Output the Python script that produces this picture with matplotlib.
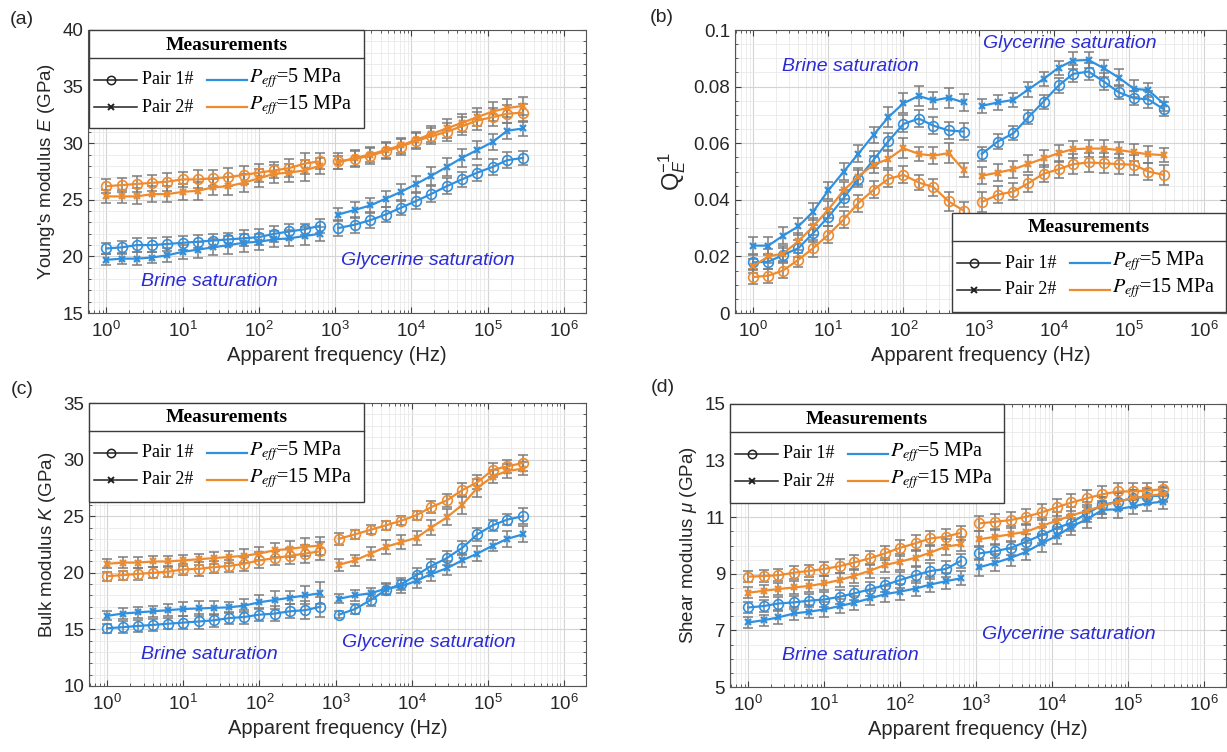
import numpy as np
import matplotlib
matplotlib.use('Agg')
import matplotlib.pyplot as plt
from matplotlib.ticker import AutoMinorLocator, LogLocator, NullFormatter, FixedLocator
from matplotlib.patches import Rectangle

plt.rcParams['font.family'] = ['Liberation Sans', 'DejaVu Sans']
plt.rcParams['mathtext.fontset'] = 'custom'
plt.rcParams['mathtext.rm'] = 'Liberation Sans'
plt.rcParams['mathtext.it'] = 'Liberation Sans:italic'
plt.rcParams['mathtext.bf'] = 'Liberation Sans:bold'

W, H = 1227, 752
BLUE = '#3190de'
ORANGE = '#ee8b2e'
ERR = '#7d7d7d'
NOTE = '#2b2bd6'
SERIF = ['Liberation Serif', 'DejaVu Serif']

# apparent frequencies (Hz): brine-saturated run, then glycerine-saturated run
freq_brine = [1.0, 1.6, 2.5, 4.0, 6.3, 10, 16, 25, 40, 63, 100, 160, 250, 400, 630]
freq_glyc = [1.1e3, 1.8e3, 2.9e3, 4.6e3, 7.3e3, 1.16e4, 1.8e4, 2.9e4, 4.6e4, 7.3e4,
             1.16e5, 1.8e5, 2.9e5]
freq_ticks = [1e0, 1e1, 1e2, 1e3, 1e4, 1e5, 1e6]

# (a) Young's modulus E (GPa)
E_p1_5 = [20.7, 20.8, 21.0, 21.0, 21.1, 21.2, 21.3, 21.4, 21.5, 21.6, 21.7, 22.0, 22.2, 22.4, 22.7,
          22.5, 22.8, 23.2, 23.7, 24.3, 24.9, 25.5, 26.2, 26.8, 27.4, 27.9, 28.5, 28.7]
E_p2_5 = [19.7, 19.8, 19.8, 19.9, 20.1, 20.4, 20.6, 20.8, 21.0, 21.2, 21.3, 21.5, 21.6, 21.8, 22.0,
          23.7, 24.1, 24.5, 25.1, 25.7, 26.4, 27.1, 27.9, 28.7, 29.4, 30.1, 31.1, 31.3]
E_p1_15 = [26.2, 26.3, 26.4, 26.5, 26.6, 26.8, 26.8, 26.9, 27.0, 27.2, 27.4, 27.6, 27.8, 28.2, 28.4,
           28.4, 28.6, 28.9, 29.3, 29.7, 30.2, 30.6, 31.0, 31.5, 32.0, 32.3, 32.6, 32.7]
E_p2_15 = [25.3, 25.3, 25.3, 25.5, 25.5, 25.7, 25.8, 26.1, 26.2, 26.5, 26.9, 27.3, 27.4, 27.6, 28.0,
           28.3, 28.7, 29.0, 29.4, 29.8, 30.3, 30.8, 31.3, 31.8, 32.3, 32.8, 33.1, 33.3]
E_p1_5_err = [0.5, 0.6, 0.6, 0.6, 0.6, 0.6, 0.6, 0.6, 0.6, 0.7, 0.7, 0.7, 0.7, 0.5, 0.6,
              0.7, 0.7, 0.7, 0.7, 0.6, 0.7, 0.7, 0.7, 0.7, 0.7, 0.7, 0.7, 0.6]
E_p2_5_err = [0.5, 0.5, 0.6, 0.5, 0.6, 0.6, 0.7, 0.7, 0.8, 0.8, 0.7, 0.7, 0.7, 0.8, 0.6,
              0.6, 0.7, 0.7, 0.7, 0.7, 0.7, 0.8, 0.8, 0.8, 0.8, 0.7, 0.7, 0.7]
E_p1_15_err = [0.6, 0.6, 0.7, 0.7, 0.8, 0.7, 0.8, 0.7, 0.8, 0.8, 0.8, 0.7, 0.8, 0.9, 0.7,
               0.7, 0.7, 0.7, 0.7, 0.7, 0.7, 0.7, 0.8, 0.8, 0.8, 0.8, 0.8, 0.8]
E_p2_15_err = [0.6, 0.6, 0.7, 0.7, 0.7, 0.7, 0.8, 0.7, 0.8, 0.8, 0.8, 0.8, 0.8, 0.9, 0.7,
               0.6, 0.7, 0.7, 0.7, 0.7, 0.7, 0.7, 0.8, 0.8, 0.8, 0.8, 0.8, 0.8]

# (b) attenuation Q_E^-1
Q_p1_5 = [0.0179, 0.0181, 0.0205, 0.0229, 0.0282, 0.0339, 0.0406, 0.0474, 0.0541, 0.0607, 0.0668,
          0.0687, 0.0662, 0.0645, 0.0641,
          0.0562, 0.0606, 0.0635, 0.0692, 0.0747, 0.0804, 0.0845, 0.0853, 0.0818, 0.0780, 0.0759,
          0.0755, 0.0720]
Q_p2_5 = [0.0238, 0.0238, 0.0273, 0.0306, 0.0358, 0.0433, 0.0499, 0.0562, 0.0629, 0.0692, 0.0741,
          0.0767, 0.0751, 0.0761, 0.0744,
          0.0732, 0.0744, 0.0753, 0.0790, 0.0827, 0.0867, 0.0892, 0.0894, 0.0865, 0.0832, 0.0792,
          0.0788, 0.0739]
Q_p1_15 = [0.0127, 0.0132, 0.0150, 0.0188, 0.0229, 0.0276, 0.0330, 0.0388, 0.0435, 0.0474, 0.0488,
           0.0461, 0.0445, 0.0394, 0.0362,
           0.0392, 0.0418, 0.0429, 0.0459, 0.0492, 0.0508, 0.0526, 0.0532, 0.0529, 0.0526, 0.0524,
           0.0500, 0.0488]
Q_p2_15 = [0.0165, 0.0200, 0.0210, 0.0253, 0.0306, 0.0365, 0.0433, 0.0482, 0.0524, 0.0544, 0.0582,
           0.0562, 0.0556, 0.0565, 0.0506,
           0.0485, 0.0496, 0.0508, 0.0527, 0.0546, 0.0565, 0.0579, 0.0581, 0.0581, 0.0576, 0.0568,
           0.0561, 0.0558]
Q_p1_5_err = [0.0025, 0.0025, 0.0025, 0.0030, 0.0030, 0.0030, 0.0030, 0.0030, 0.0030, 0.0030, 0.0030,
              0.0030, 0.0030, 0.0030, 0.0030,
              0.0025, 0.0025, 0.0025, 0.0025, 0.0025, 0.0025, 0.0030, 0.0030, 0.0030, 0.0025, 0.0025,
              0.0030, 0.0025]
Q_p2_5_err = [0.0030, 0.0030, 0.0030, 0.0030, 0.0030, 0.0030, 0.0030, 0.0030, 0.0030, 0.0035, 0.0035,
              0.0035, 0.0030, 0.0035, 0.0030,
              0.0025, 0.0025, 0.0025, 0.0025, 0.0025, 0.0025, 0.0030, 0.0030, 0.0030, 0.0030, 0.0030,
              0.0025, 0.0025]
Q_p1_15_err = [0.0025, 0.0025, 0.0025, 0.0025, 0.0030, 0.0030, 0.0030, 0.0030, 0.0030, 0.0030, 0.0030,
               0.0025, 0.0030, 0.0035, 0.0030,
               0.0035, 0.0030, 0.0030, 0.0030, 0.0030, 0.0030, 0.0035, 0.0035, 0.0035, 0.0035, 0.0035,
               0.0030, 0.0035]
Q_p2_15_err = [0.0025, 0.0025, 0.0025, 0.0030, 0.0030, 0.0030, 0.0030, 0.0030, 0.0030, 0.0030, 0.0035,
               0.0025, 0.0030, 0.0035, 0.0025,
               0.0030, 0.0030, 0.0030, 0.0030, 0.0030, 0.0030, 0.0030, 0.0030, 0.0030, 0.0030, 0.0030,
               0.0030, 0.0025]

# (c) bulk modulus K (GPa)
K_p1_5 = [15.1, 15.2, 15.3, 15.4, 15.5, 15.6, 15.7, 15.8, 16.0, 16.1, 16.3, 16.4, 16.6, 16.7, 17.0,
          16.3, 16.8, 17.6, 18.5, 19.0, 19.8, 20.6, 21.3, 22.2, 23.4, 24.2, 24.7, 25.0]
K_p2_5 = [16.2, 16.4, 16.5, 16.6, 16.7, 16.8, 16.85, 16.9, 16.95, 17.1, 17.4, 17.6, 17.8, 18.0, 18.2,
          17.7, 18.0, 18.2, 18.6, 18.8, 19.3, 19.9, 20.4, 21.1, 21.7, 22.4, 23.0, 23.4]
K_p1_15 = [19.7, 19.8, 19.9, 20.0, 20.1, 20.3, 20.35, 20.5, 20.6, 20.8, 21.1, 21.3, 21.5, 21.7, 21.9,
           23.0, 23.4, 23.8, 24.2, 24.6, 25.1, 25.8, 26.4, 27.3, 28.0, 29.1, 29.4, 29.7]
K_p2_15 = [20.8, 20.9, 20.9, 21.0, 21.0, 21.1, 21.2, 21.3, 21.4, 21.5, 21.7, 22.0, 22.1, 22.3, 22.4,
           20.7, 21.1, 21.7, 22.3, 22.7, 23.1, 24.0, 24.9, 26.0, 27.5, 28.5, 29.0, 29.2]
K_p1_5_err = [0.4, 0.5, 0.5, 0.5, 0.5, 0.6, 0.7, 0.6, 0.5, 0.6, 0.6, 0.7, 0.6, 0.8, 0.9,
              0.3, 0.4, 0.5, 0.5, 0.5, 0.6, 0.6, 0.6, 0.6, 0.6, 0.5, 0.5, 0.7]
K_p2_5_err = [0.4, 0.5, 0.5, 0.5, 0.5, 0.6, 0.7, 0.6, 0.5, 0.6, 0.6, 0.8, 0.6, 0.8, 1.0,
              0.4, 0.5, 0.5, 0.5, 0.6, 0.6, 0.6, 0.6, 0.6, 0.7, 0.5, 0.7, 0.7]
K_p1_15_err = [0.4, 0.4, 0.5, 0.5, 0.5, 0.5, 0.6, 0.5, 0.5, 0.6, 0.7, 0.6, 0.7, 0.8, 0.8,
               0.5, 0.4, 0.4, 0.4, 0.4, 0.4, 0.5, 0.6, 0.6, 0.6, 0.6, 0.6, 0.7]
K_p2_15_err = [0.4, 0.5, 0.5, 0.5, 0.5, 0.5, 0.5, 0.5, 0.5, 0.6, 0.6, 0.6, 0.7, 0.8, 0.8,
               0.5, 0.5, 0.6, 0.6, 0.6, 0.6, 0.7, 0.7, 0.8, 0.8, 0.6, 0.6, 0.6]

# (d) shear modulus mu (GPa)
mu_p1_5 = [7.81, 7.86, 7.95, 7.99, 8.05, 8.09, 8.19, 8.31, 8.45, 8.60, 8.78, 8.95, 9.10, 9.17, 9.46,
           9.72, 9.80, 9.92, 10.14, 10.37, 10.61, 10.81, 11.14, 11.43, 11.55, 11.67, 11.73, 11.77]
mu_p2_5 = [7.28, 7.36, 7.46, 7.60, 7.66, 7.74, 7.86, 7.98, 8.13, 8.28, 8.37, 8.48, 8.62, 8.74, 8.84,
           9.23, 9.39, 9.57, 9.78, 10.08, 10.34, 10.67, 10.93, 11.26, 11.28, 11.38, 11.49, 11.55]
mu_p1_15 = [8.90, 8.92, 8.95, 9.04, 9.10, 9.17, 9.27, 9.40, 9.55, 9.72, 9.92, 10.08, 10.25, 10.31,
            10.45, 10.78, 10.84, 10.90, 11.02, 11.17, 11.35, 11.52, 11.67, 11.81, 11.91, 11.91,
            11.94, 11.99]
mu_p2_15 = [8.33, 8.40, 8.46, 8.52, 8.57, 8.66, 8.78, 8.93, 9.11, 9.31, 9.43, 9.57, 9.75, 9.96, 10.04,
            10.22, 10.31, 10.40, 10.49, 10.69, 10.88, 11.06, 11.23, 11.40, 11.55, 11.67, 11.75, 11.82]
mu_p1_5_err = [0.20, 0.20, 0.22, 0.22, 0.22, 0.25, 0.25, 0.25, 0.25, 0.25, 0.28, 0.28, 0.28, 0.28, 0.25,
               0.25, 0.25, 0.25, 0.28, 0.28, 0.28, 0.28, 0.30, 0.30, 0.30, 0.30, 0.28, 0.25]
mu_p2_5_err = [0.20, 0.20, 0.22, 0.22, 0.22, 0.25, 0.25, 0.25, 0.25, 0.28, 0.28, 0.28, 0.28, 0.28, 0.25,
               0.30, 0.30, 0.30, 0.30, 0.30, 0.30, 0.30, 0.30, 0.30, 0.30, 0.28, 0.28, 0.25]
mu_p1_15_err = [0.20, 0.22, 0.22, 0.22, 0.22, 0.25, 0.25, 0.25, 0.25, 0.25, 0.28, 0.28, 0.28, 0.28, 0.25,
                0.28, 0.28, 0.28, 0.28, 0.28, 0.30, 0.30, 0.30, 0.30, 0.30, 0.30, 0.28, 0.25]
mu_p2_15_err = [0.20, 0.22, 0.22, 0.22, 0.22, 0.25, 0.25, 0.25, 0.25, 0.25, 0.28, 0.28, 0.28, 0.28, 0.25,
                0.28, 0.28, 0.28, 0.28, 0.28, 0.30, 0.30, 0.30, 0.30, 0.30, 0.30, 0.28, 0.25]

E_ticks = [15, 20, 25, 30, 35, 40]
Q_ticks = [0, 0.02, 0.04, 0.06, 0.08, 0.1]
K_ticks = [10, 15, 20, 25, 30, 35]
mu_ticks = [5, 7, 9, 11, 13, 15]


def px_axes(fig, left, top, right, bottom):
    # place an axes from pixel edges measured from the top-left corner
    return fig.add_axes([left / W, 1 - bottom / H, (right - left) / W, (bottom - top) / H])


def draw_series(ax, vals, errs, color, marker):
    nb = len(freq_brine)
    for f, v, e in ((freq_brine, vals[:nb], errs[:nb]), (freq_glyc, vals[nb:], errs[nb:])):
        ax.errorbar(f, v, yerr=e, fmt='none', ecolor=ERR, elinewidth=1.1,
                    capsize=3.5, capthick=1.1, zorder=2)
        if marker == 'o':
            ax.plot(f, v, color=color, lw=1.6, marker='o', ms=7, mfc='none',
                    mew=1.2, zorder=3)
        else:
            ax.plot(f, v, color=color, lw=1.6, marker='x', ms=4.5, mew=1.6, zorder=3)


def style_axes(ax, ticks, nminor, ylabel, ylabel_size):
    ax.set_xscale('log')
    ax.set_xlim(10 ** -0.24, 10 ** 6.29)
    ax.xaxis.set_major_locator(FixedLocator(freq_ticks))
    ax.xaxis.set_minor_locator(LogLocator(base=10, subs=np.arange(2, 10), numticks=12))
    ax.xaxis.set_minor_formatter(NullFormatter())
    ax.set_ylim(ticks[0], ticks[-1])
    ax.yaxis.set_major_locator(FixedLocator(ticks))
    ax.yaxis.set_major_formatter(plt.FuncFormatter(lambda v, _: f'{v:g}'))
    ax.yaxis.set_minor_locator(AutoMinorLocator(nminor))
    ax.grid(True, which='major', color='#d4d4d4', lw=0.8)
    ax.grid(True, which='minor', color='#e9e9e9', lw=0.6)
    ax.set_axisbelow(True)
    ax.tick_params(which='both', direction='in', top=True, right=True,
                   colors='#404040', labelcolor='#262626', labelsize=13.5)
    ax.tick_params(axis='x', which='major', pad=6)
    ax.tick_params(which='major', length=4)
    ax.tick_params(which='minor', length=2.2)
    for s in ax.spines.values():
        s.set_color('#555555')
        s.set_linewidth(0.8)
    ax.set_xlabel('Apparent frequency (Hz)', fontsize=14.5, color='#262626', labelpad=3)
    ax.set_ylabel(ylabel, fontsize=ylabel_size, color='#262626')


def measurement_key(fig, left, top, width, height):
    kax = fig.add_axes([left / W, 1 - (top + height) / H, width / W, height / H])
    kax.set_xlim(0, width)
    kax.set_ylim(height, 0)
    kax.axis('off')
    kax.add_patch(Rectangle((0, 0), width, height, fc='white', ec='#3c3c3c',
                            lw=1.0, clip_on=False))
    kax.plot([0, width], [28, 28], color='#3c3c3c', lw=1.0, clip_on=False)
    kax.text(width / 2, 15, 'Measurements', ha='center', va='center',
             family=SERIF, weight='bold', fontsize=14)
    rows = ((50, 'o', 'Pair 1#', BLUE, '5'), (77, 'x', 'Pair 2#', ORANGE, '15'))
    for y, mk, lab, col, p in rows:
        kax.plot([5, 48], [y, y], color='#202020', lw=1.1)
        if mk == 'o':
            kax.plot([22], [y], marker='o', ms=6, mfc='none', mec='#202020', mew=1.1)
        else:
            kax.plot([22], [y], marker='x', ms=5, mec='#202020', mew=1.4)
        kax.text(53, y, lab, ha='left', va='center', family=SERIF, fontsize=13)
        kax.plot([118, 158], [y, y], color=col, lw=1.6)
        kax.text(160, y - 2, r'$P_{eff}$=' + p + ' MPa', ha='left', va='center',
                 family=SERIF, fontsize=14.5, math_fontfamily='stix')


def notes(ax, brine_xy, glyc_xy):
    ax.text(*brine_xy, 'Brine saturation', transform=ax.transAxes, ha='center',
            va='center', style='italic', color=NOTE, fontsize=14)
    ax.text(*glyc_xy, 'Glycerine saturation', transform=ax.transAxes, ha='center',
            va='center', style='italic', color=NOTE, fontsize=14)


fig = plt.figure(figsize=(W / 100, H / 100), dpi=100)

ax_a = px_axes(fig, 88, 30, 586, 313)
ax_b = px_axes(fig, 735, 30, 1226, 313)
ax_c = px_axes(fig, 89, 403, 586, 686)
ax_d = px_axes(fig, 730, 404, 1226, 687)

panels = [
    (ax_a, [(E_p1_5, E_p1_5_err, BLUE, 'o'), (E_p2_5, E_p2_5_err, BLUE, 'x'),
            (E_p1_15, E_p1_15_err, ORANGE, 'o'), (E_p2_15, E_p2_15_err, ORANGE, 'x')],
     E_ticks, 5, r"Young's modulus $E$ (GPa)", 13.5),
    (ax_b, [(Q_p1_5, Q_p1_5_err, BLUE, 'o'), (Q_p2_5, Q_p2_5_err, BLUE, 'x'),
            (Q_p1_15, Q_p1_15_err, ORANGE, 'o'), (Q_p2_15, Q_p2_15_err, ORANGE, 'x')],
     Q_ticks, 4, r'$\mathregular{Q}_{E}^{-1}$', 17),
    (ax_c, [(K_p1_5, K_p1_5_err, BLUE, 'o'), (K_p2_5, K_p2_5_err, BLUE, 'x'),
            (K_p1_15, K_p1_15_err, ORANGE, 'o'), (K_p2_15, K_p2_15_err, ORANGE, 'x')],
     K_ticks, 5, r'Bulk modulus $K$ (GPa)', 13.5),
    (ax_d, [(mu_p1_5, mu_p1_5_err, BLUE, 'o'), (mu_p2_5, mu_p2_5_err, BLUE, 'x'),
            (mu_p1_15, mu_p1_15_err, ORANGE, 'o'), (mu_p2_15, mu_p2_15_err, ORANGE, 'x')],
     mu_ticks, 4, r'Shear modulus $\mu$ (GPa)', 13.5),
]

for ax, series, ticks, nminor, ylabel, ysize in panels:
    for vals, errs, color, marker in series:
        draw_series(ax, vals, errs, color, marker)
    style_axes(ax, ticks, nminor, ylabel, ysize)

notes(ax_a, (0.243, 0.11), (0.683, 0.187))
notes(ax_b, (0.234, 0.87), (0.682, 0.954))
notes(ax_c, (0.243, 0.11), (0.684, 0.155))
notes(ax_d, (0.242, 0.11), (0.683, 0.184))

measurement_key(fig, 89, 30, 275, 98)
measurement_key(fig, 952, 213, 274, 99)
measurement_key(fig, 89, 403, 275, 99)
measurement_key(fig, 730, 404, 274, 99)

for lab, x, y in (('(a)', 22, 20), ('(b)', 662, 17), ('(c)', 22, 390), ('(d)', 663, 388)):
    fig.text(x / W, 1 - y / H, lab, ha='center', va='center', fontsize=14, color='#262626')

fig.savefig('out.png', dpi=100)
